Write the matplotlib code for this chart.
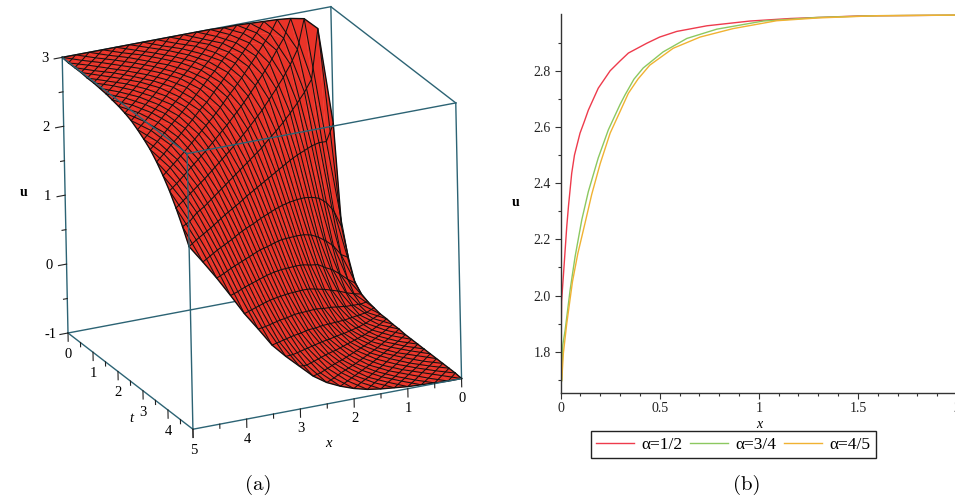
import numpy as np
import matplotlib
matplotlib.use("Agg")
import matplotlib.pyplot as plt
from matplotlib.ticker import MultipleLocator, FixedLocator, FixedFormatter
from mpl_toolkits.mplot3d import proj3d

W, H = 955, 501

# ---- panel (a): surface heights u, one row per t = 0, .25, ... 5; columns x = 0, .25, ... 5
x_grid = [0, .25, .5, .75, 1, 1.25, 1.5, 1.75, 2, 2.25, 2.5, 2.75, 3, 3.25, 3.5, 3.75, 4, 4.25, 4.5, 4.75, 5]
t_grid = [0, .25, .5, .75, 1, 1.25, 1.5, 1.75, 2, 2.25, 2.5, 2.75, 3, 3.25, 3.5, 3.75, 4, 4.25, 4.5, 4.75, 5]
u_surface = [
 [1.30, 2.72, 2.90, 2.94, 2.96, 2.97, 2.98, 2.99, 2.99, 3.00, 3.00, 3.00, 3.00, 3.00, 3.00, 3.00, 3.00, 3.00, 3.00, 3.00, 3.00],
 [-.12, 1.15, 2.09, 2.56, 2.76, 2.86, 2.91, 2.94, 2.96, 2.97, 2.97, 2.98, 2.98, 2.98, 2.99, 2.99, 2.99, 2.99, 2.99, 2.99, 2.99],
 [-.50, .21, 1.24, 2.01, 2.45, 2.69, 2.81, 2.87, 2.91, 2.94, 2.96, 2.97, 2.97, 2.98, 2.98, 2.99, 2.99, 2.99, 2.99, 2.99, 2.99],
 [-.80, -.35, .44, 1.30, 1.96, 2.37, 2.61, 2.75, 2.83, 2.88, 2.91, 2.93, 2.95, 2.96, 2.97, 2.97, 2.98, 2.98, 2.98, 2.98, 2.99],
 [-.89, -.64, -.12, .61, 1.34, 1.92, 2.31, 2.55, 2.70, 2.79, 2.86, 2.89, 2.92, 2.94, 2.95, 2.96, 2.97, 2.97, 2.98, 2.98, 2.98],
 [-.93, -.78, -.46, .06, .73, 1.38, 1.89, 2.26, 2.50, 2.65, 2.76, 2.82, 2.87, 2.90, 2.92, 2.94, 2.95, 2.96, 2.97, 2.97, 2.98],
 [-.95, -.86, -.66, -.29, .22, .83, 1.41, 1.87, 2.21, 2.45, 2.61, 2.72, 2.80, 2.85, 2.89, 2.91, 2.93, 2.95, 2.96, 2.97, 2.97],
 [-.97, -.91, -.77, -.53, -.15, .36, .91, 1.43, 1.86, 2.18, 2.41, 2.58, 2.69, 2.77, 2.83, 2.87, 2.90, 2.92, 2.94, 2.95, 2.96],
 [-.97, -.93, -.84, -.68, -.41, 0.0, .47, .98, 1.45, 1.84, 2.15, 2.38, 2.54, 2.65, 2.74, 2.80, 2.85, 2.88, 2.91, 2.93, 2.94],
 [-.98, -.95, -.89, -.77, -.58, -.29, .10, .56, 1.04, 1.47, 1.84, 2.13, 2.35, 2.51, 2.64, 2.72, 2.79, 2.83, 2.87, 2.90, 2.92],
 [-.98, -.96, -.92, -.84, -.70, -.48, -.18, .21, .64, 1.09, 1.49, 1.84, 2.11, 2.33, 2.49, 2.61, 2.70, 2.77, 2.82, 2.86, 2.89],
 [-.99, -.97, -.94, -.88, -.78, -.62, -.39, -.07, .30, .72, 1.13, 1.51, 1.84, 2.10, 2.31, 2.47, 2.59, 2.69, 2.75, 2.80, 2.85],
 [-.99, -.98, -.95, -.91, -.83, -.72, -.54, -.29, .02, .38, .78, 1.17, 1.53, 1.84, 2.09, 2.29, 2.45, 2.57, 2.67, 2.74, 2.79],
 [-.99, -.98, -.96, -.93, -.87, -.78, -.65, -.46, -.21, .10, .46, .83, 1.20, 1.54, 1.84, 2.08, 2.28, 2.43, 2.56, 2.65, 2.72],
 [-.99, -.98, -.97, -.94, -.90, -.83, -.73, -.59, -.39, -.13, .18, .53, .89, 1.24, 1.56, 1.84, 2.07, 2.27, 2.42, 2.54, 2.64],
 [-.99, -.98, -.97, -.95, -.92, -.87, -.79, -.68, -.52, -.31, -.05, .25, .59, .93, 1.27, 1.58, 1.84, 2.07, 2.26, 2.41, 2.53],
 [-.99, -.99, -.98, -.96, -.94, -.90, -.84, -.75, -.62, -.46, -.25, .01, .32, .64, .97, 1.29, 1.59, 1.84, 2.07, 2.25, 2.40],
 [-.99, -.99, -.98, -.97, -.95, -.92, -.87, -.80, -.70, -.57, -.40, -.18, .08, .38, .69, 1.01, 1.32, 1.60, 1.86, 2.07, 2.25],
 [-.99, -.99, -.98, -.97, -.96, -.93, -.90, -.84, -.76, -.66, -.52, -.34, -.12, .14, .43, .74, 1.05, 1.35, 1.62, 1.84, 2.07],
 [-.99, -.99, -.99, -.98, -.96, -.94, -.91, -.87, -.81, -.73, -.62, -.47, -.28, -.06, .20, .48, .78, 1.08, 1.37, 1.64, 1.87],
 [-1.0, -1.0, -.99, -.98, -.97, -.95, -.93, -.90, -.85, -.78, -.69, -.56, -.38, -.20, 0.0, .27, .53, .83, 1.12, 1.39, 1.65],
]
x_ticks_a = [0, 1, 2, 3, 4]
t_ticks_a = [0, 1, 2, 3, 4, 5]
u_ticks_a = [-1, 0, 1, 2, 3]

# ---- panel (b): profiles
x_half = [0, .002, .005, .014, .031, .04, .056, .07, .098, .12, .14, .19, .25, .30, .342, .435, .50, .586, .738, .956, 1.16, 1.5, 2.0]
u_half = [1.68, 1.80, 1.98, 2.07, 2.245, 2.32, 2.435, 2.50, 2.578, 2.62, 2.66, 2.738, 2.80, 2.835, 2.863, 2.898, 2.92, 2.94, 2.96, 2.977, 2.986, 2.995, 2.998]
x_three = [0, .006, .011, .023, .048, .073, .107, .14, .19, .241, .30, .325, .37, .417, .517, .637, .788, 1.023, 1.3, 1.6, 2.0]
u_three = [1.68, 1.70, 1.824, 1.877, 2.02, 2.138, 2.27, 2.37, 2.49, 2.59, 2.68, 2.714, 2.77, 2.81, 2.867, 2.915, 2.948, 2.977, 2.99, 2.996, 2.998]
x_four = [0, .006, .014, .031, .06, .087, .124, .157, .20, .25, .30, .342, .39, .45, .568, .704, .87, 1.09, 1.3, 1.6, 2.0]
u_four = [1.68, 1.70, 1.795, 1.90, 2.05, 2.15, 2.26, 2.36, 2.47, 2.578, 2.655, 2.72, 2.77, 2.82, 2.88, 2.92, 2.95, 2.978, 2.988, 2.996, 2.998]
labels_b = ["α=1/2", "α=3/4", "α=4/5"]
colors_b = ["#ee3b4c", "#8cc860", "#f0b232"]

serif = ["Liberation Serif", "DejaVu Serif"]
plt.rcParams["font.family"] = serif

fig = plt.figure(figsize=(W / 100, H / 100), dpi=100)

# ================= panel (a)
ax = fig.add_axes([0.0, 0.0, 0.52, 1.0], projection="3d", proj_type="ortho")
ax.set_xlim(0, 5, view_margin=0)
ax.set_ylim(0, 5, view_margin=0)
ax.set_zlim(-1, 3, view_margin=0)
ax.view_init(elev=21.5, azim=65.5, roll=1.2)
ax.set_axis_off()
ax.computed_zorder = False

X, T = np.meshgrid(x_grid, t_grid)
U = np.array(u_surface)
ax.plot_surface(X, T, U, rstride=1, cstride=1, color="#ea3328", shade=False,
                linewidth=0.3, edgecolor="#ea3328", antialiased=True, zorder=2)

# zigzag mesh lines along x, hopping between neighbouring t rows (both phases)
n_t, n_x = U.shape
cj = np.arange(n_x)
for i in range(n_t - 1):
    for phase in (0, 1):
        ri = np.where((cj + phase) % 2 == 0, i, i + 1)
        ax.plot(X[ri, cj], T[ri, cj], U[ri, cj], color="#111111", lw=0.75, zorder=3)
# outline of the surface
for a, b, c in [(X[0], T[0], U[0]), (X[-1], T[-1], U[-1]),
                (X[:, 0], T[:, 0], U[:, 0]), (X[:, -1], T[:, -1], U[:, -1])]:
    ax.plot(a, b, c, color="#111111", lw=1.0, zorder=3)

box_c = "#2c6374"
xl, xh, tl, th, ul, uh = 0, 5, 0, 5, -1, 3
back = [((xl, tl, ul), (xh, tl, ul)), ((xl, tl, ul), (xl, th, ul)), ((xl, tl, ul), (xl, tl, uh)),
        ((xh, tl, uh), (xl, tl, uh)), ((xl, tl, uh), (xl, th, uh)),
        ((xh, tl, ul), (xh, tl, uh)), ((xl, th, ul), (xl, th, uh))]
front = [((xh, tl, uh), (xh, th, uh)), ((xh, th, uh), (xl, th, uh)), ((xh, th, ul), (xh, th, uh)),
         ((xh, tl, ul), (xh, th, ul)), ((xh, th, ul), (xl, th, ul))]
for seg, z in [(back, 1), (front, 4)]:
    for p, q in seg:
        ax.plot([p[0], q[0]], [p[1], q[1]], [p[2], q[2]], color=box_c, lw=1.0, zorder=z)

tick_c = "#222222"
tick_fs = 10.5
# u axis
for v in np.arange(-1, 3.01, 0.5):
    L = 0.15 if float(v).is_integer() else 0.07
    ax.plot([5, 5 + L], [0, 0], [v, v], color=tick_c, lw=0.8, zorder=4)
for v in u_ticks_a:
    ax.text(5.32, 0, v + 0.03, "-1" if v == -1 else str(v), ha="center", va="center", fontsize=tick_fs, zorder=5)
# t axis
for v in np.arange(0, 5.01, 0.5):
    L = 0.12 if float(v).is_integer() else 0.06
    ax.plot([5, 5], [v, v], [-1, -1 - L], color=tick_c, lw=0.8, zorder=4)
for v in t_ticks_a:
    ax.text(5, v, -1.31, str(v), ha="center", va="center", fontsize=tick_fs, zorder=5)
# x axis
for v in np.arange(0, 5.01, 0.5):
    L = 0.12 if float(v).is_integer() else 0.06
    ax.plot([v, v], [5, 5], [-1, -1 - L], color=tick_c, lw=0.8, zorder=4)
for v in x_ticks_a:
    ax.text(v, 5, -1.29, str(v), ha="center", va="center", fontsize=tick_fs, zorder=5)
ax.text(2.5, 5, -1.575, "x", style="italic", ha="center", va="center", fontsize=10.5, zorder=5)
ax.text(5, 2.5, -1.54, "t", style="italic", ha="center", va="center", fontsize=10.5, zorder=5)
ax.text(5.76, 0, 1.15, "u", weight="bold", ha="center", va="center", fontsize=10, zorder=5)

# fit the orthographic box onto the reference's corner positions
def corner_px(pt):
    ax.apply_aspect()
    M = ax.get_proj()
    a, b, _ = proj3d.proj_transform(pt[0], pt[1], pt[2], M)
    return ax.transData.transform((a, b))

p1, p2 = (5, 0, -1), (0, 5, -1)
t1, t2 = np.array([68.0, H - 333.0]), np.array([461.0, H - 383.0])
zoom = 1.0
ax.set_box_aspect((1, 1, 1), zoom=zoom)
pos = [0.0, 0.0, 0.52, 1.0]
for _ in range(4):
    a1, a2 = corner_px(p1), corner_px(p2)
    zoom *= np.linalg.norm(t2 - t1) / np.linalg.norm(a2 - a1)
    ax.set_box_aspect((1, 1, 1), zoom=zoom)
    a1 = corner_px(p1)
    d = t1 - a1
    pos[0] += d[0] / W
    pos[1] += d[1] / H
    ax.set_position(pos)

fig.text(258 / W, 1 - 485 / H, "(a)", family="cmr10", fontsize=15, ha="center", va="center")

# ================= panel (b)
left, right, top, bottom = 560.6, 955.0, 14.0, 392.5
ax2 = fig.add_axes([left / W, 1 - bottom / H, (right - left) / W, (bottom - top) / H])
ax2.patch.set_alpha(0)
ax2.plot(x_half, u_half, color=colors_b[0], lw=1.0, label=labels_b[0])
ax2.plot(x_three, u_three, color=colors_b[1], lw=1.0, label=labels_b[1])
ax2.plot(x_four, u_four, color=colors_b[2], lw=1.0, label=labels_b[2])
ax2.set_xlim(0, (right - left) / 198.2)
ax2.set_ylim(1.655, 3.002)
for s in ["top", "right"]:
    ax2.spines[s].set_visible(False)
for s in ["left", "bottom"]:
    ax2.spines[s].set_color("#333333")
    ax2.spines[s].set_linewidth(1.0)
ax2.xaxis.set_major_locator(FixedLocator([0, .5, 1, 1.5]))
ax2.xaxis.set_major_formatter(FixedFormatter(["0", "0.5", "1", "1.5"]))
ax2.xaxis.set_minor_locator(MultipleLocator(0.1))
ax2.yaxis.set_major_locator(FixedLocator([1.8, 2.0, 2.2, 2.4, 2.6, 2.8]))
ax2.yaxis.set_major_formatter(FixedFormatter(["1.8", "2.0", "2.2", "2.4", "2.6", "2.8"]))
ax2.yaxis.set_minor_locator(FixedLocator([1.7, 1.9, 2.1, 2.3, 2.5, 2.7, 2.9]))
ax2.tick_params(which="major", length=4.0, width=0.8, color="#333333", labelsize=10, pad=3, labelcolor="#222222")
ax2.tick_params(which="minor", length=2.2, width=0.8, color="#333333")
# the last tick label sits on the image edge in the reference
fig.text(953 / W, 1 - 409 / H, "2", fontsize=10, color="#222222", ha="left", va="center")
fig.text(516 / W, 1 - 203 / H, "u", weight="bold", fontsize=10, ha="center", va="center")
fig.text(759 / W, 1 - 425 / H, "x", style="italic", fontsize=10, ha="center", va="center")

leg = ax2.legend(loc="center", bbox_to_anchor=(733.5 / W, 1 - 444.5 / H), bbox_transform=fig.transFigure,
                 ncol=3, fontsize=12.5, frameon=True, fancybox=False, framealpha=1, edgecolor="#222222",
                 handlelength=2.15, handletextpad=0.45, columnspacing=0.45, borderpad=0.33, borderaxespad=0)
leg.get_frame().set_linewidth(1.0)

fig.text(747 / W, 1 - 485 / H, "(b)", family="cmr10", fontsize=15, ha="center", va="center")

fig.savefig("out.png", dpi=100)
